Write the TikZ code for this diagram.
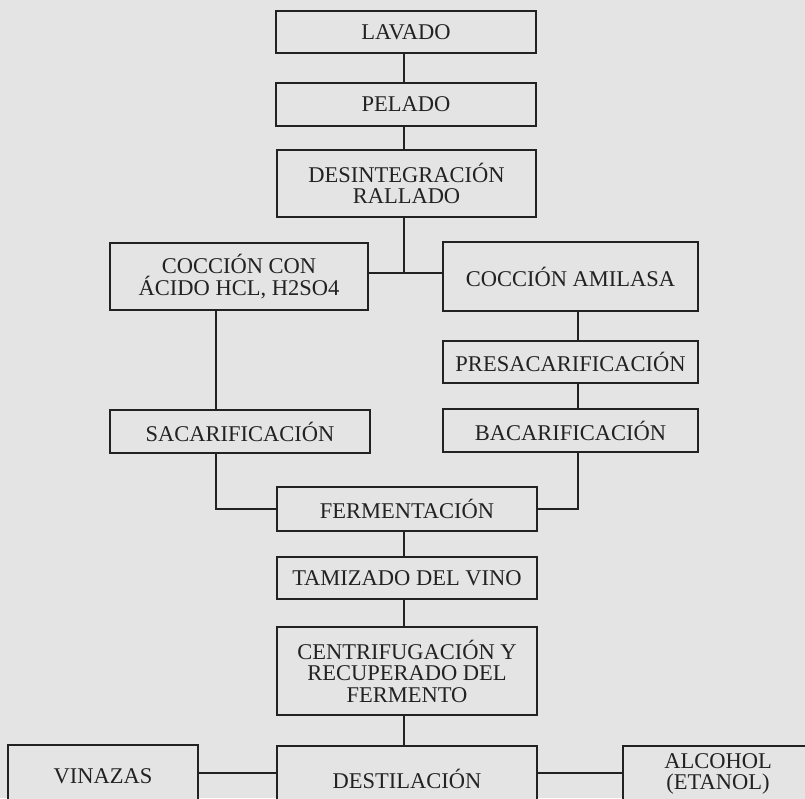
\documentclass[tikz,border=0pt]{standalone}
\usepackage{fontspec}
\setmainfont{Liberation Serif}
\definecolor{paper}{HTML}{E4E4E4}
\definecolor{ink}{HTML}{222222}
\begin{document}
\begin{tikzpicture}[x=1pt,y=-1pt,
  box/.style={draw=ink, fill=paper, line width=1.6pt, align=center, inner sep=0pt,
    font=\fontsize{22.5}{21.5}\selectfont, text=ink},
  link/.style={draw=ink, line width=1.3pt}]
\fill[paper] (0,0) rectangle (805,798);
\useasboundingbox (0,0) rectangle (805,798);
% centre column
\node[box, minimum width=260pt, minimum height=42pt] (lav) at (406,32) {LAVADO};
\node[box, minimum width=260pt, minimum height=43pt] (pel) at (406,104.5) {PELADO};
\node[box, minimum width=259pt, minimum height=67pt] (des) at (406.5,183.5) {DESINTEGRACIÓN\\RALLADO};
% left branch
\node[box, minimum width=258pt, minimum height=67pt] (ccon) at (239,276.5) {COCCIÓN CON\\ÁCIDO HCL, H2SO4};
\node[box, minimum width=260pt, minimum height=43pt] (sac) at (240,431.5) {SACARIFICACIÓN};
% right branch
\node[box, minimum width=255pt, minimum height=69pt] (cami) at (570.5,276.5) {COCCIÓN AMILASA};
\node[box, minimum width=255pt, minimum height=42pt] (pres) at (570.5,362) {PRESACARIFICACIÓN};
\node[box, minimum width=255pt, minimum height=43pt] (bac) at (570.5,430.5) {BACARIFICACIÓN};
% lower column
\node[box, minimum width=260pt, minimum height=44pt] (fer) at (407,509) {FERMENTACIÓN};
\node[box, minimum width=260pt, minimum height=42pt] (tam) at (407,578) {TAMIZADO DEL VINO};
\node[box, minimum width=260pt, minimum height=88pt] (cen) at (407,671) {CENTRIFUGACIÓN Y\\RECUPERADO DEL\\FERMENTO};
\node[box, minimum width=260pt, minimum height=66pt] (dst) at (407,779) {DESTILACIÓN};
\node[box, minimum width=190pt, minimum height=62pt] (vin) at (103,776) {VINAZAS};
\node[box, minimum width=190pt, minimum height=56pt] (alc) at (718,774) {ALCOHOL\\(ETANOL)};
% connectors
\coordinate (spine) at (404,0);
\coordinate (lspine) at (216,0);
\coordinate (rspine) at (578,0);
\coordinate (split) at (404,273);
\coordinate (join) at (404,509);
\draw[link] (lav.south -| spine) -- (pel.north -| spine);
\draw[link] (pel.south -| spine) -- (des.north -| spine);
\draw[link] (des.south -| spine) -- (split);
\draw[link] (ccon.east |- split) -- (cami.west |- split);
\draw[link] (ccon.south -| lspine) -- (sac.north -| lspine);
\draw[link] (sac.south -| lspine) |- (fer.west |- join);
\draw[link] (cami.south -| rspine) -- (pres.north -| rspine);
\draw[link] (pres.south -| rspine) -- (bac.north -| rspine);
\draw[link] (bac.south -| rspine) |- (fer.east |- join);
\draw[link] (fer.south -| spine) -- (tam.north -| spine);
\draw[link] (tam.south -| spine) -- (cen.north -| spine);
\draw[link] (cen.south -| spine) -- (dst.north -| spine);
\coordinate (bot) at (0,773);
\draw[link] (vin.east |- bot) -- (dst.west |- bot);
\draw[link] (dst.east |- bot) -- (alc.west |- bot);
\end{tikzpicture}
\end{document}
